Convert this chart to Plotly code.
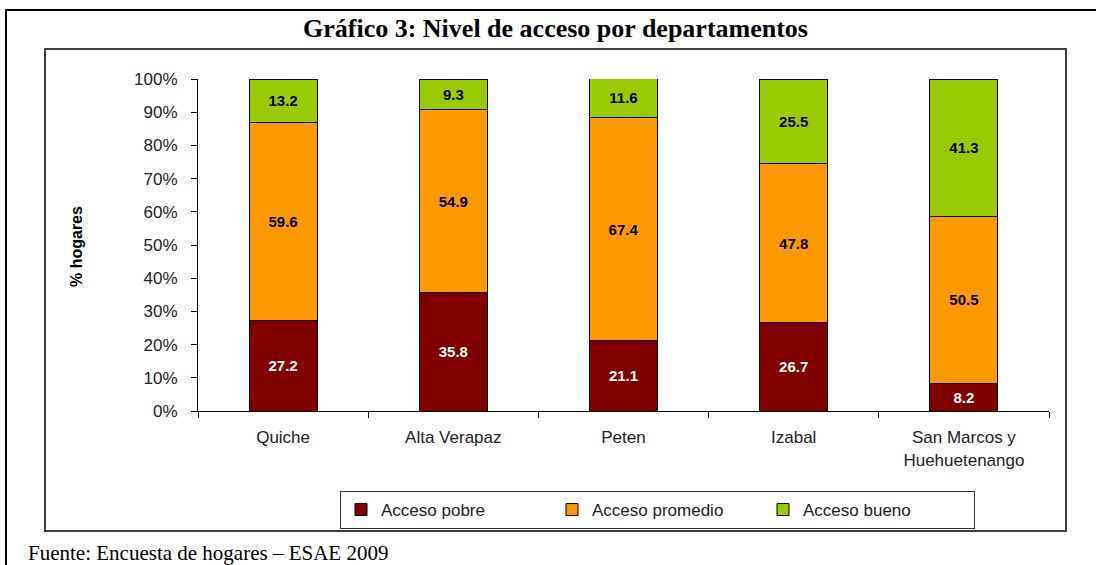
import plotly.graph_objects as go

categories = ["Quiche", "Alta Verapaz", "Peten", "Izabal", "San Marcos y<br>Huehuetenango"]
acceso_pobre = [27.2, 35.8, 21.1, 26.7, 8.2]
acceso_promedio = [59.6, 54.9, 67.4, 47.8, 50.5]
acceso_bueno = [13.2, 9.3, 11.6, 25.5, 41.3]
series_names = ["Acceso pobre", "Acceso promedio", "Acceso bueno"]
colors = ["#800000", "#FF9900", "#99CC00"]
text_colors = ["white", "black", "black"]
y_ticks = [0, 10, 20, 30, 40, 50, 60, 70, 80, 90, 100]
y_tick_labels = ["0%", "10%", "20%", "30%", "40%", "50%", "60%", "70%", "80%", "90%", "100%"]

W, H = 1096, 565
L, R, T, B = 198, 1049, 79, 411

def px(x):
    return (x - L) / (R - L)

def py(y):
    return (B - y) / (B - T)

fig = go.Figure()
for name, vals, col, tc in zip(series_names, [acceso_pobre, acceso_promedio, acceso_bueno], colors, text_colors):
    fig.add_trace(go.Bar(
        x=categories, y=vals, name=name,
        marker=dict(color=col, line=dict(color="black", width=1)),
        text=[f"{v:.1f}" for v in vals],
        textposition="inside", insidetextanchor="middle", textangle=0,
        textfont=dict(family="Arial, Liberation Sans", size=15, color=tc, weight="bold"),
        hoverinfo="skip",
    ))

fig.update_layout(
    barmode="stack", bargap=0.6,
    width=W, height=H, autosize=False,
    margin=dict(l=L, r=W - R, t=T, b=H - B, pad=0),
    paper_bgcolor="white", plot_bgcolor="white",
    font=dict(family="Arial, Liberation Sans", size=14, color="#222"),
    showlegend=True,
    legend=dict(orientation="h", x=px(340), y=py(510), xanchor="left", yanchor="middle",
                bordercolor="#333", borderwidth=1, bgcolor="white",
                font=dict(size=17, color="#222"), traceorder="normal",
                itemwidth=30, entrywidth=166, entrywidthmode="pixels"),
    xaxis=dict(showline=True, linecolor="black", linewidth=1, ticks="outside", ticklen=6,
               tickcolor="black", tickson="boundaries", showgrid=False, zeroline=False,
               tickfont=dict(size=17, color="#222"), ticklabelstandoff=11, fixedrange=True),
    yaxis=dict(range=[0, 100], tickvals=y_ticks, ticktext=y_tick_labels, showline=True, linecolor="black",
               linewidth=1, ticks="outside", ticklen=6, tickcolor="black", showgrid=False,
               zeroline=False, tickfont=dict(size=17, color="#222"), ticklabelstandoff=10,
               fixedrange=True),
    shapes=[
        dict(type="rect", xref="paper", yref="paper", x0=px(6), x1=px(1110), y0=py(580), y1=py(10),
             line=dict(color="black", width=2), layer="below"),
        dict(type="rect", xref="paper", yref="paper", x0=px(45), x1=px(1066), y0=py(531), y1=py(49),
             line=dict(color="#404040", width=2), layer="below"),
    ],
    annotations=[
        dict(text="<b>Gráfico 3: Nivel de acceso por departamentos</b>", x=px(555), y=py(29),
             xref="paper", yref="paper", showarrow=False, xanchor="center", yanchor="middle",
             font=dict(family="Liberation Serif, Times New Roman", size=26, color="black")),
        dict(text="<b>% hogares</b>", x=px(76), y=py(247), xref="paper", yref="paper", showarrow=False,
             textangle=-90, xanchor="center", yanchor="middle",
             font=dict(family="Arial, Liberation Sans", size=16, color="black")),
        dict(text="Fuente: Encuesta de hogares – ESAE 2009", x=px(26), y=py(553), xref="paper", yref="paper",
             showarrow=False, xanchor="left", yanchor="middle",
             font=dict(family="Liberation Serif, Times New Roman", size=21, color="black")),
    ],
)

fig.write_html("out.html", config={"displayModeBar": False},
               post_script="document.body.style.margin='0';document.body.style.overflow='hidden';")
